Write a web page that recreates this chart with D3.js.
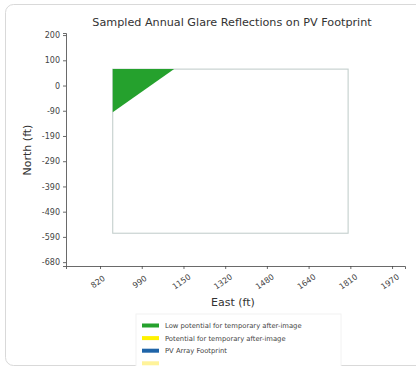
<!DOCTYPE html>
<html><head><meta charset="utf-8">
<script src="https://cdn.jsdelivr.net/npm/d3@7"></script>
<style>html,body{margin:0;padding:0;background:#fff;}svg{display:block;}</style>
</head><body>
<svg id="c" width="416" height="373"></svg>
<script>
const title = "Sampled Annual Glare Reflections on PV Footprint";
const xLabel = "East (ft)";
const yLabel = "North (ft)";
const xTickValues = [820, 984.3, 1148.6, 1312.9, 1477.1, 1641.4, 1805.7, 1970];
const xTickLabels = ["820", "990", "1150", "1320", "1480", "1640", "1810", "1970"];
const yTickValues = [200, 102.2, 4.4, -93.3, -191.1, -288.9, -386.7, -484.4, -582.2, -680];
const yTickLabels = ["200", "100", "0", "-90", "-190", "-290", "-390", "-490", "-590", "-680"];
const footprintX = [870, 1797];
const footprintY = [-568, 68];
const glareLow = [[870, 68], [1112, 68], [870, -99]];
const legendNames = ["Low potential for temporary after-image", "Potential for temporary after-image", "PV Array Footprint", ""];
const legendColors = ["#25a12d", "#fff200", "#1f64a8", "#fff39a"];

const svg = d3.select("#c");
const x = d3.scaleLinear().domain([686, 2021]).range([66, 405]);
const y = d3.scaleLinear().domain([-695, 208]).range([266, 33]);

svg.append("defs").append("clipPath").attr("id","card")
  .append("rect").attr("x",5).attr("y",4).attr("width",430).attr("height",362).attr("rx",8);
svg.append("rect").attr("x",5.5).attr("y",4.5).attr("width",430).attr("height",361).attr("rx",8)
  .attr("fill","#fff").attr("stroke","#d9d9d9");

const g = svg.append("g").attr("clip-path","url(#card)");

g.append("text").attr("x",232).attr("y",26).attr("text-anchor","middle")
  .attr("font-family","DejaVu Sans").attr("font-size",11.2).attr("fill","#333").text(title);

g.append("rect").attr("x", x(footprintX[0])).attr("y", y(footprintY[1]))
  .attr("width", x(footprintX[1]) - x(footprintX[0]))
  .attr("height", y(footprintY[0]) - y(footprintY[1]))
  .attr("fill","#fff").attr("stroke","#c4cfcd").attr("stroke-width",1.1);

g.append("path").attr("d", d3.line().x(d => x(d[0])).y(d => y(d[1]))(glareLow) + "Z")
  .attr("fill", legendColors[0]);

const xAxis = d3.axisBottom(x).tickValues(xTickValues).tickFormat((d,i)=>xTickLabels[i]).tickSizeOuter(0).tickSize(3);
const yAxis = d3.axisLeft(y).tickValues(yTickValues).tickFormat((d,i)=>yTickLabels[i]).tickSizeOuter(0).tickSize(3);
const gx = g.append("g").attr("transform","translate(0,266)").call(xAxis);
const gy = g.append("g").attr("transform","translate(66,0)").call(yAxis);
[gx, gy].forEach(a => {
  a.select(".domain").attr("stroke","#444").attr("stroke-width",0.8);
  a.selectAll(".tick line").attr("stroke","#444").attr("stroke-width",0.8);
  a.selectAll(".tick text").attr("font-family","DejaVu Sans").attr("font-size",8).attr("fill","#444");
});
gx.selectAll(".tick text").attr("text-anchor","middle").attr("dy",null).attr("y",0)
  .attr("transform","translate(-1,18) rotate(-35)");
gy.selectAll(".tick text").attr("x",-6);

g.append("text").attr("x",233).attr("y",306).attr("text-anchor","middle")
  .attr("font-family","DejaVu Sans").attr("font-size",11).attr("fill","#333").text(xLabel);
g.append("text").attr("transform","translate(31,150) rotate(-90)").attr("text-anchor","middle")
  .attr("font-family","DejaVu Sans").attr("font-size",11).attr("fill","#333").text(yLabel);

const lg = g.append("g");
lg.append("rect").attr("x",136).attr("y",314).attr("width",205).attr("height",60)
  .attr("fill","#fff").attr("stroke","#f2f2f2");
legendNames.forEach((n,i) => {
  const yy = 325.5 + i*12.6;
  lg.append("rect").attr("x",142).attr("y",yy-2).attr("width",17).attr("height",4).attr("fill",legendColors[i]);
  lg.append("text").attr("x",165).attr("y",yy+2.5).attr("font-family","DejaVu Sans").attr("font-size",6.8)
    .attr("fill","#444").text(n);
});
</script>
</body></html>
